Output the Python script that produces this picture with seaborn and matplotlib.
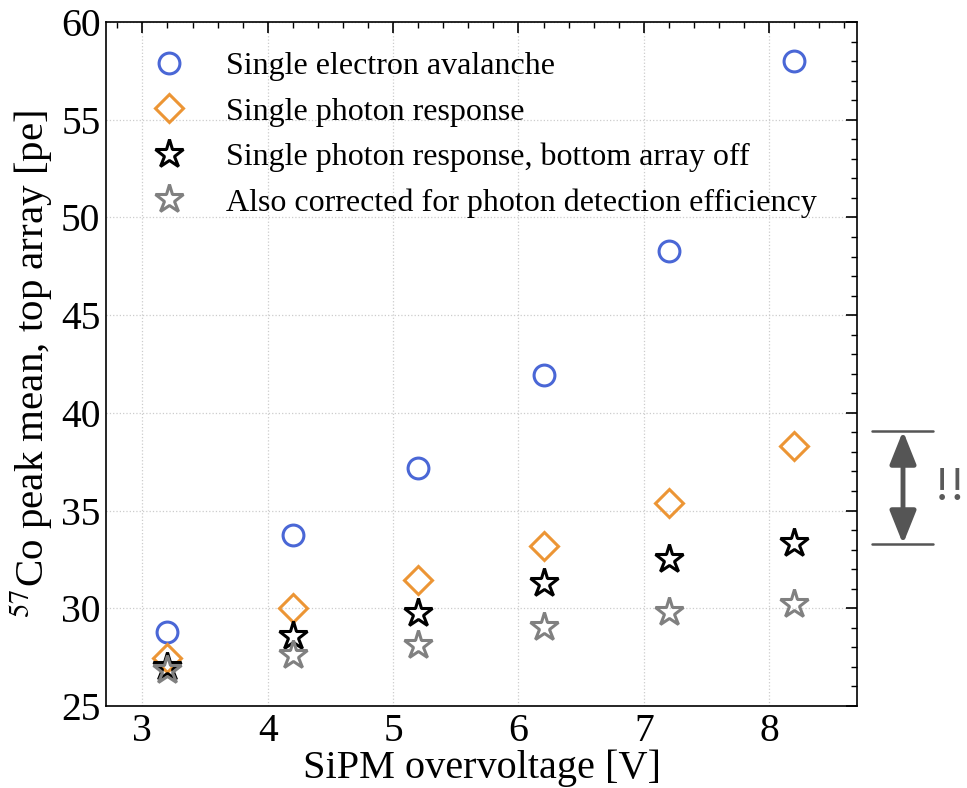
import matplotlib
matplotlib.use("Agg")
import matplotlib.pyplot as plt
import seaborn as sns
import pandas as pd
from matplotlib.ticker import MultipleLocator
from matplotlib.patches import FancyArrowPatch
from matplotlib.lines import Line2D

overvoltage = [3.2, 4.2, 5.2, 6.2, 7.2, 8.2]
single_electron = [28.8, 33.75, 37.2, 41.95, 48.3, 58.0]
single_photon = [27.45, 30.0, 31.45, 33.2, 35.4, 38.3]
photon_bottom_off = [27.0, 28.6, 29.75, 31.3, 32.5, 33.35]
pde_corrected = [26.85, 27.6, 28.1, 29.05, 29.8, 30.2]

labels = ["Single electron avalanche",
          "Single photon response",
          "Single photon response, bottom array off",
          "Also corrected for photon detection efficiency"]
colors = ["#4a67d6", "#ec9535", "#000000", "#808080"]
markers = ["o", "D", "*", "*"]
msizes = [15, 14, 21, 21]

sns.set_theme(style="white")
plt.rcParams['font.family'] = ['Liberation Serif', 'DejaVu Serif']
plt.rcParams['mathtext.fontset'] = 'stix'
plt.rcParams['text.color'] = 'black'
plt.rcParams['axes.labelcolor'] = 'black'
plt.rcParams['xtick.color'] = 'black'
plt.rcParams['ytick.color'] = 'black'

fig = plt.figure(figsize=(9.67, 7.88), dpi=100)
ax = fig.add_axes([106/967, 1-706/788, (857-106)/967, (706-22)/788])

series = [single_electron, single_photon, photon_bottom_off, pde_corrected]
for vals, lab, c, m, ms in zip(series, labels, colors, markers, msizes):
    df = pd.DataFrame({"x": overvoltage, "y": vals})
    sns.lineplot(data=df, x="x", y="y", ax=ax, linestyle="", marker=m,
                 markersize=ms, markerfacecolor="none", markeredgecolor=c,
                 markeredgewidth=2.2, label=lab, errorbar=None, zorder=3)

ax.set_xlim(2.71, 8.70)
ax.set_ylim(25, 60)
ax.xaxis.set_major_locator(MultipleLocator(1))
ax.xaxis.set_minor_locator(MultipleLocator(0.2))
ax.yaxis.set_major_locator(MultipleLocator(5))
ax.yaxis.set_minor_locator(MultipleLocator(1))
ax.tick_params(which="both", direction="in", top=True, right=True, colors="black")
ax.tick_params(which="major", length=8, width=1.2, labelsize=28.5)
ax.tick_params(which="minor", length=4, width=1.0)
ax.tick_params(axis="x", pad=5)
ax.tick_params(axis="y", pad=4)
for s in ax.spines.values():
    s.set_color("black")
    s.set_linewidth(1.2)
ax.grid(True, which="major", color="#cccccc", linestyle=":", linewidth=0.9)

ax.set_xlabel("SiPM overvoltage [V]", fontsize=29, labelpad=0)
ax.set_ylabel(r"$^{57}$Co peak mean, top array [pe]", fontsize=29.5, labelpad=4)

handles = [Line2D([], [], linestyle="", marker=m, markersize=ms, markerfacecolor="none",
                  markeredgecolor=c, markeredgewidth=2.2)
           for c, m, ms in zip(colors, markers, msizes)]
ax.legend(handles, labels, loc="upper left", bbox_to_anchor=(0.045, 0.975), frameon=False,
          fontsize=23, handlelength=1.0, handletextpad=1.29, labelspacing=0.5,
          borderaxespad=0, labelcolor="black")

# annotation on the right
y_top = 1 - 431/788
y_bot = 1 - 544/788
for yy in (y_top, y_bot):
    fig.add_artist(Line2D([872/967, 933/967], [yy, yy], transform=fig.transFigure,
                          color="#555555", lw=1.8))
arr = FancyArrowPatch((903/967, y_top), (903/967, y_bot), transform=fig.transFigure,
                      arrowstyle="<|-|>,head_length=1.0,head_width=0.4", mutation_scale=20,
                      color="#555555", lw=3.5, shrinkA=0, shrinkB=0)
fig.add_artist(arr)
fig.text(950/967, 1 - 488/788, "!!", fontsize=35, color="#5a5a5a", ha="center", va="center")

fig.savefig("out.png", dpi=100)
